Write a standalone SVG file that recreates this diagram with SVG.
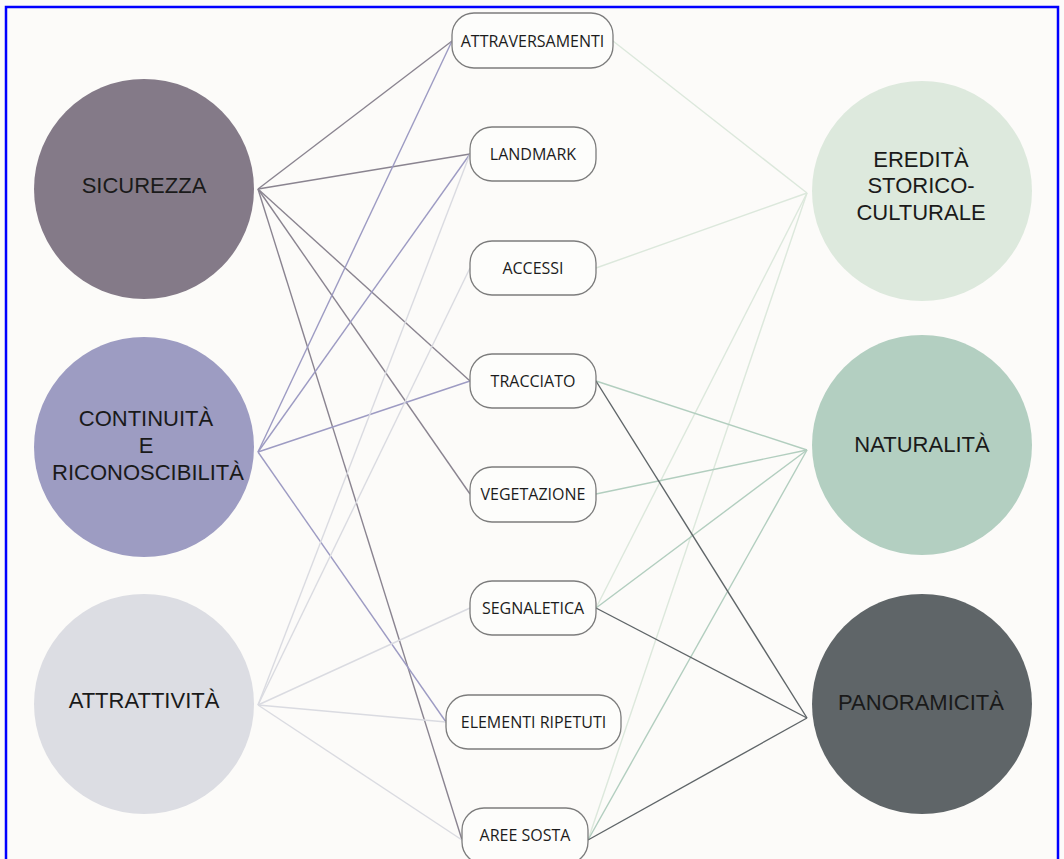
<svg xmlns="http://www.w3.org/2000/svg" width="1064" height="859" viewBox="0 0 1064 859">
<style>
.bg{fill:#fcfbf9}
.frame{fill:none;stroke:#0000ff;stroke-width:2.5}
.box{fill:#fdfdfb;stroke:#7c7c7c;stroke-width:1.3}
.bt{font-family:"Open Sans",sans-serif;font-size:16px;fill:#1c1c1c;text-anchor:middle}
.ct{font-family:"Liberation Sans",Arial,sans-serif;font-size:22px;fill:#1a1a1a;text-anchor:middle}
.l{fill:none;stroke-width:1.4}
.ls{stroke:#8a8490}
.lc{stroke:#9d9bc3}
.la{stroke:#dadbe1}
.le{stroke:#dce8dc}
.ln{stroke:#b2cebf}
.lp{stroke:#5f6568}
</style>
<rect class="bg" x="0" y="0" width="1064" height="859"/>
<g id="connectors">
  <line class="l ls" x1="258" y1="189" x2="452" y2="41"/>
  <line class="l ls" x1="258" y1="189" x2="470" y2="154"/>
  <line class="l ls" x1="258" y1="189" x2="470" y2="381"/>
  <line class="l ls" x1="258" y1="189" x2="470" y2="494"/>
  <line class="l ls" x1="258" y1="189" x2="462" y2="840"/>
  <line class="l lc" x1="258" y1="452" x2="452" y2="41"/>
  <line class="l lc" x1="258" y1="452" x2="470" y2="154"/>
  <line class="l lc" x1="258" y1="452" x2="470" y2="381"/>
  <line class="l lc" x1="258" y1="452" x2="446" y2="722"/>
  <line class="l la" x1="258" y1="705" x2="470" y2="154"/>
  <line class="l la" x1="258" y1="705" x2="470" y2="268"/>
  <line class="l la" x1="258" y1="705" x2="470" y2="608"/>
  <line class="l la" x1="258" y1="705" x2="446" y2="722"/>
  <line class="l la" x1="258" y1="705" x2="462" y2="840"/>
  <line class="l le" x1="807" y1="193" x2="613" y2="41"/>
  <line class="l le" x1="807" y1="193" x2="596" y2="268"/>
  <line class="l le" x1="807" y1="193" x2="596" y2="608"/>
  <line class="l le" x1="807" y1="193" x2="588" y2="840"/>
  <line class="l ln" x1="807" y1="450" x2="596" y2="381"/>
  <line class="l ln" x1="807" y1="450" x2="596" y2="494"/>
  <line class="l ln" x1="807" y1="450" x2="596" y2="608"/>
  <line class="l ln" x1="807" y1="450" x2="588" y2="840"/>
  <line class="l lp" x1="807" y1="718" x2="596" y2="381"/>
  <line class="l lp" x1="807" y1="718" x2="596" y2="608"/>
  <line class="l lp" x1="807" y1="718" x2="588" y2="840"/>
</g>
<g id="sicurezza">
  <circle cx="144" cy="189" r="110" fill="#847a88"/>
  <text class="ct" x="144" y="193">SICUREZZA</text>
</g>
<g id="continuita">
  <circle cx="144" cy="447" r="110" fill="#9d9cc2"/>
  <text class="ct" x="146" y="426">CONTINUITÀ</text>
  <text class="ct" x="146" y="453">E</text>
  <text class="ct" x="148" y="480">RICONOSCIBILITÀ</text>
</g>
<g id="attrattivita">
  <circle cx="144" cy="704" r="110" fill="#dcdde3"/>
  <text class="ct" x="144" y="708">ATTRATTIVITÀ</text>
</g>
<g id="eredita">
  <circle cx="922" cy="191" r="110" fill="#dde9dd"/>
  <text class="ct" x="921" y="167">EREDITÀ</text>
  <text class="ct" x="921" y="193">STORICO-</text>
  <text class="ct" x="921" y="220">CULTURALE</text>
</g>
<g id="naturalita">
  <circle cx="922" cy="445" r="110" fill="#b3cfc1"/>
  <text class="ct" x="922" y="452">NATURALITÀ</text>
</g>
<g id="panoramicita">
  <circle cx="922" cy="704" r="110" fill="#5f6568"/>
  <text class="ct" x="921" y="710">PANORAMICITÀ</text>
</g>
<g id="attraversamenti">
  <rect class="box" x="452" y="13" width="161" height="55" rx="22"/>
  <text class="bt" x="532.5" y="47">ATTRAVERSAMENTI</text>
</g>
<g id="landmark">
  <rect class="box" x="470" y="127" width="126" height="54" rx="22"/>
  <text class="bt" x="533" y="160">LANDMARK</text>
</g>
<g id="accessi">
  <rect class="box" x="470" y="241" width="126" height="54" rx="22"/>
  <text class="bt" x="533" y="274">ACCESSI</text>
</g>
<g id="tracciato">
  <rect class="box" x="470" y="354" width="126" height="54" rx="22"/>
  <text class="bt" x="533" y="387">TRACCIATO</text>
</g>
<g id="vegetazione">
  <rect class="box" x="470" y="467" width="126" height="55" rx="22"/>
  <text class="bt" x="533" y="500">VEGETAZIONE</text>
</g>
<g id="segnaletica">
  <rect class="box" x="470" y="581" width="126" height="54" rx="22"/>
  <text class="bt" x="533" y="614">SEGNALETICA</text>
</g>
<g id="elementi-ripetuti">
  <rect class="box" x="446" y="695" width="175" height="54" rx="22"/>
  <text class="bt" x="533.5" y="728">ELEMENTI RIPETUTI</text>
</g>
<g id="aree-sosta">
  <rect class="box" x="462" y="808" width="126" height="56" rx="22"/>
  <text class="bt" x="525" y="841">AREE SOSTA</text>
</g>
<rect class="frame" x="6" y="7" width="1052" height="870"/>
</svg>
